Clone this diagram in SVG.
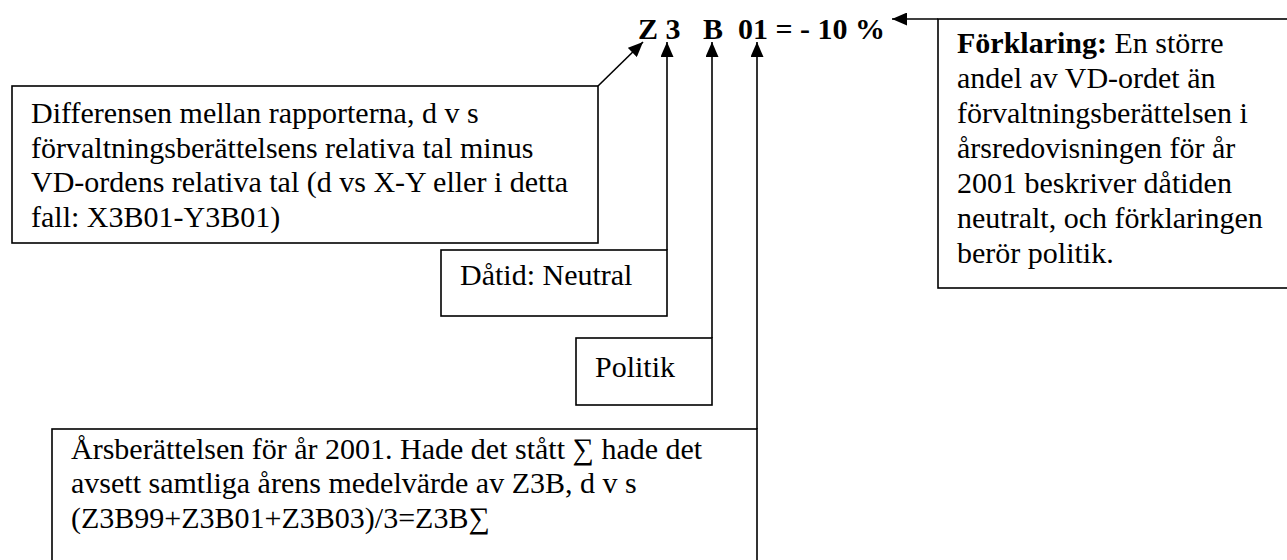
<svg xmlns="http://www.w3.org/2000/svg" width="1287" height="560" viewBox="0 0 1287 560">
<style>
.box{fill:#fff;stroke:#000;stroke-width:1.6}
.t{font-family:"Liberation Serif","Times New Roman",serif;font-size:30px;fill:#000}
.b{font-weight:bold}
.ln{stroke:#000;stroke-width:1.6;fill:none}
</style>
<defs>
<marker id="ah" markerWidth="15" markerHeight="13" refX="15" refY="6.5" orient="auto" markerUnits="userSpaceOnUse">
<path d="M0,0 L15,6.5 L0,13 Z" fill="#000"/>
</marker>
</defs>
<rect width="1287" height="560" fill="#fff"/>
<g id="title">
<text class="t b" x="638" y="39" xml:space="preserve">Z 3   B  01 = - 10 %</text>
</g>
<g id="box-differens">
<rect class="box" x="12" y="86" width="586" height="157"/>
<text class="t" x="31" y="123">Differensen mellan rapporterna, d v s</text>
<text class="t" x="31" y="158">förvaltningsberättelsens relativa tal minus</text>
<text class="t" x="31" y="192">VD-ordens relativa tal (d vs X-Y eller i detta</text>
<text class="t" x="31" y="227">fall: X3B01-Y3B01)</text>
</g>
<g id="box-datid">
<rect class="box" x="441" y="250" width="226" height="66"/>
<text class="t" x="460" y="285">Dåtid: Neutral</text>
</g>
<g id="box-politik">
<rect class="box" x="576" y="338" width="136" height="67"/>
<text class="t" x="595" y="377">Politik</text>
</g>
<g id="box-ar">
<rect class="box" x="52" y="429" width="705" height="150"/>
<text class="t" x="71" y="459">Årsberättelsen för år 2001. Hade det stått ∑ hade det</text>
<text class="t" x="71" y="493">avsett samtliga årens medelvärde av Z3B, d v s</text>
<text class="t" x="71" y="528">(Z3B99+Z3B01+Z3B03)/3=Z3B∑</text>
</g>
<g id="box-forklaring">
<rect class="box" x="938" y="19" width="360" height="269"/>
<text class="t" x="957" y="53"><tspan class="b">Förklaring:</tspan> En större</text>
<text class="t" x="957" y="88">andel av VD-ordet än</text>
<text class="t" x="957" y="123">förvaltningsberättelsen i</text>
<text class="t" x="957" y="158">årsredovisningen för år</text>
<text class="t" x="957" y="193">2001 beskriver dåtiden</text>
<text class="t" x="957" y="228">neutralt, och förklaringen</text>
<text class="t" x="957" y="263">berör politik.</text>
</g>
<g id="connectors">
<line class="ln" x1="598" y1="86" x2="643" y2="42" marker-end="url(#ah)"/>
<line class="ln" x1="667" y1="250" x2="667" y2="42" marker-end="url(#ah)"/>
<line class="ln" x1="712" y1="338" x2="712" y2="42" marker-end="url(#ah)"/>
<line class="ln" x1="757" y1="429" x2="757" y2="42" marker-end="url(#ah)"/>
<line class="ln" x1="938" y1="19" x2="892" y2="19" marker-end="url(#ah)"/>
</g>
</svg>
